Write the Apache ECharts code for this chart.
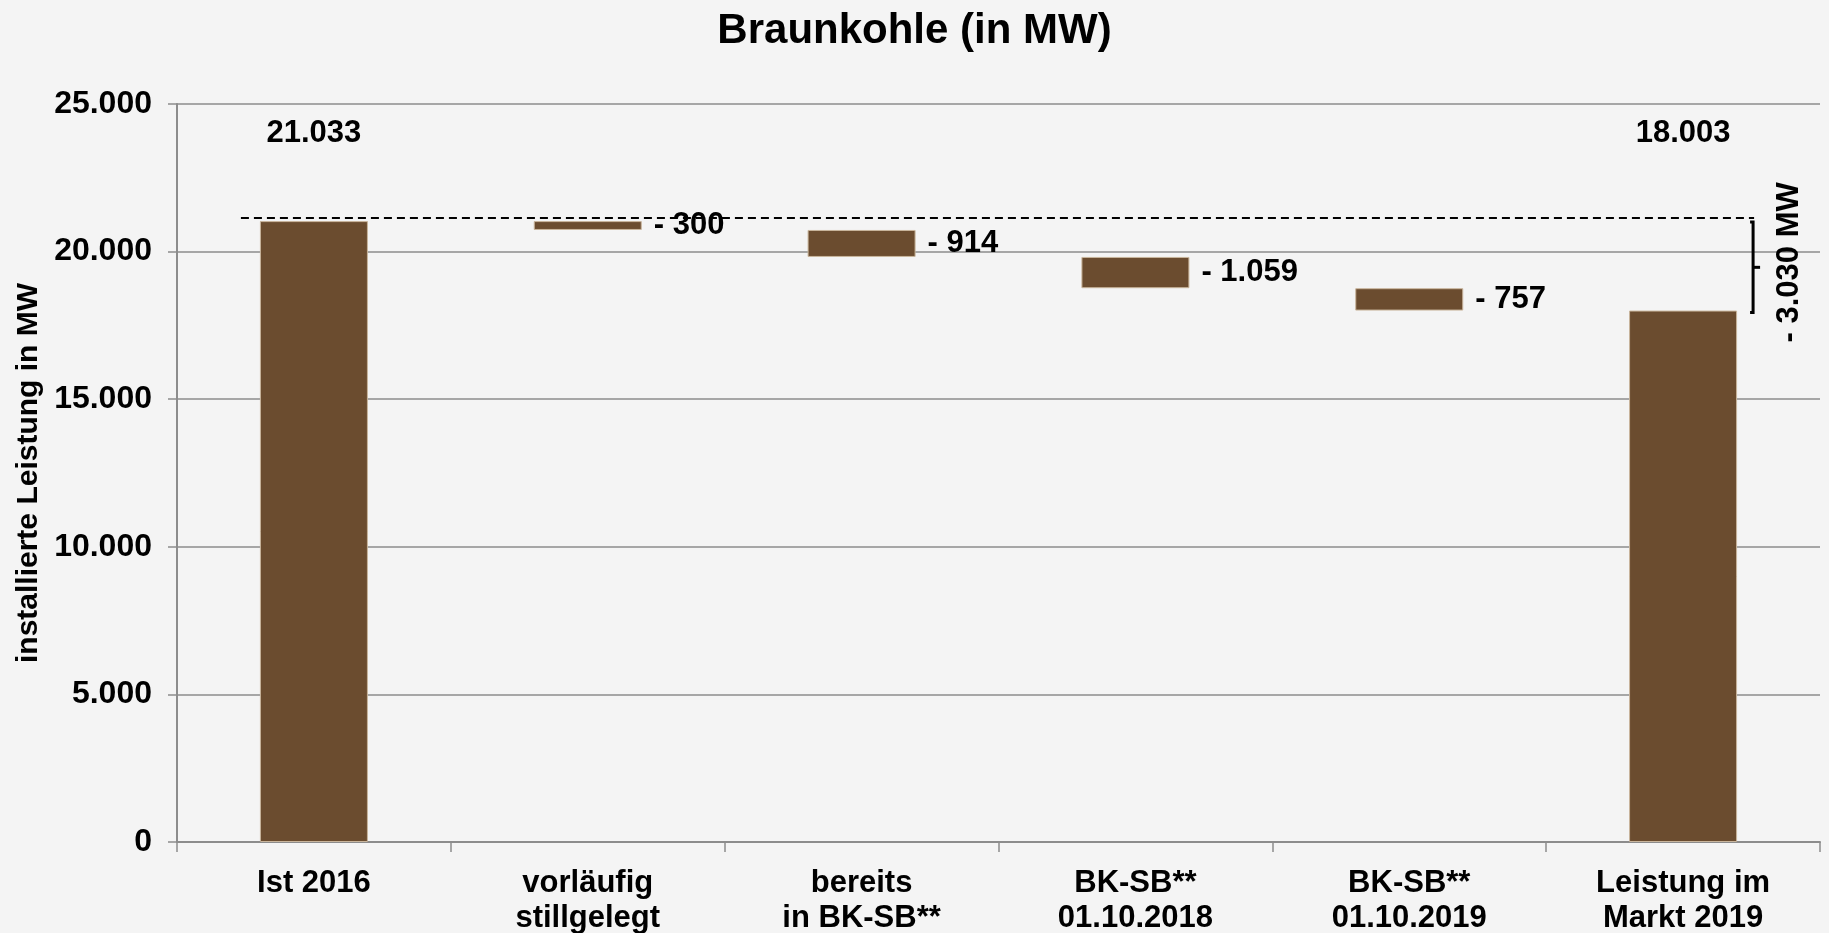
<!DOCTYPE html>
<html>
<head>
<meta charset="utf-8">
<script src="https://cdn.jsdelivr.net/npm/echarts@6/dist/echarts.min.js"></script>
<style>
  html, body { margin: 0; padding: 0; background: #f4f4f4; }
  #chart { width: 1829px; height: 933px; }
</style>
</head>
<body>
<div id="chart"></div>
<script>
// Werte (MW)
var categories = ['Ist 2016', 'vorläufig\nstillgelegt', 'bereits\nin BK-SB**', 'BK-SB**\n01.10.2018', 'BK-SB**\n01.10.2019', 'Leistung im\nMarkt 2019'];
var startValue = 21033;
var changes = [-300, -914, -1059, -757];
var endValue = 18003;
var yTicks = [0, 5000, 10000, 15000, 20000, 25000];

function fmt(v) {
    return String(Math.abs(v)).replace(/\B(?=(\d{3})+(?!\d))/g, '.');
}

// Wasserfall: unsichtbare Basis + sichtbarer Balken
var baseData = ['-'];
var barData = [startValue];
var level = startValue;
changes.forEach(function (c) {
    level += c;
    baseData.push(level);
    barData.push(-c);
});
baseData.push('-');
barData.push(endValue);

var FONT = '"Liberation Sans", Arial, sans-serif';
var BROWN = '#6b4c2f';
var GRAY = '#8c8c8c';
var LABEL_Y = 24000;

var chart = echarts.init(document.getElementById('chart'));
chart.setOption({
    backgroundColor: '#f4f4f4',
    animation: false,
    title: {
        text: 'Braunkohle (in MW)',
        left: 'center',
        top: 5,
        textStyle: { fontFamily: FONT, fontSize: 42, fontWeight: 'bold', color: '#000' }
    },
    grid: { left: 177, right: 9, top: 104, bottom: 91, outerBoundsMode: 'none' },
    xAxis: {
        type: 'category',
        data: categories,
        axisLine: { lineStyle: { color: GRAY, width: 2 } },
        axisTick: { show: true, length: 10, lineStyle: { color: GRAY, width: 1.5 } },
        axisLabel: {
            interval: 0,
            margin: 24,
            fontFamily: FONT, fontSize: 31, fontWeight: 'bold', color: '#000',
            lineHeight: 35
        }
    },
    yAxis: {
        type: 'value',
        min: yTicks[0],
        max: yTicks[yTicks.length - 1],
        interval: 5000,
        name: 'installierte Leistung in MW',
        nameLocation: 'middle',
        nameGap: 133,
        nameMoveOverlap: false,
        nameTextStyle: { fontFamily: FONT, fontSize: 30, fontWeight: 'bold', color: '#000' },
        axisLine: { show: true, lineStyle: { color: GRAY, width: 2 } },
        axisTick: { show: true, length: 9, lineStyle: { color: GRAY, width: 1.5 } },
        splitLine: { lineStyle: { color: GRAY, width: 1.5 } },
        axisLabel: {
            margin: 25,
            fontFamily: FONT, fontSize: 32, fontWeight: 'bold', color: '#000',
            formatter: function (v) { return fmt(v); }
        }
    },
    series: [
        {
            type: 'bar',
            stack: 'wf',
            data: baseData,
            itemStyle: { color: 'transparent' },
            silent: true
        },
        {
            type: 'bar',
            stack: 'wf',
            barWidth: 108,
            data: barData,
            itemStyle: { color: BROWN, borderColor: '#c9b59c', borderWidth: 1 },
            label: {
                show: true,
                position: 'right',
                distance: 12,
                fontFamily: FONT, fontSize: 31, fontWeight: 'bold', color: '#000',
                formatter: function (p) {
                    if (p.dataIndex === 0 || p.dataIndex === categories.length - 1) return '';
                    return '- ' + fmt(p.value);
                }
            },
            markPoint: {
                symbol: 'rect',
                symbolSize: 1,
                itemStyle: { color: 'transparent' },
                label: {
                    show: true,
                    position: 'inside',
                    fontFamily: FONT, fontSize: 31, fontWeight: 'bold', color: '#000',
                    formatter: function (p) { return fmt(p.value); }
                },
                data: [
                    { coord: [0, LABEL_Y], value: startValue },
                    { coord: [categories.length - 1, LABEL_Y], value: endValue }
                ]
            }
        }
    ]
});

// Gestrichelte Linie und Klammer
var pTop = chart.convertToPixel({ gridIndex: 0 }, [0, startValue]);
var pEnd = chart.convertToPixel({ gridIndex: 0 }, [categories.length - 1, endValue]);
var bx = pEnd[0] + 70;
var yTop = pTop[1] + 1;
var yBot = pEnd[1] + 2;
var yMid = (yTop + yBot) / 2;
chart.setOption({
    graphic: [
        {
            type: 'line',
            shape: { x1: pTop[0] - 73, y1: pTop[1] - 3, x2: bx + 1, y2: pTop[1] - 3 },
            style: { stroke: '#000', lineWidth: 2, lineDash: [8, 5] }
        },
        {
            type: 'polyline',
            shape: { points: [[bx - 3, yTop], [bx, yTop], [bx, yBot], [bx - 3, yBot]] },
            style: { stroke: '#000', lineWidth: 3, fill: null }
        },
        {
            type: 'line',
            shape: { x1: bx, y1: yMid, x2: bx + 7, y2: yMid },
            style: { stroke: '#000', lineWidth: 3 }
        },
        {
            type: 'text',
            x: bx + 36,
            y: yMid - 5,
            rotation: Math.PI / 2,
            style: {
                text: '- ' + fmt(startValue - endValue) + ' MW',
                fontFamily: FONT, fontSize: 31, fontWeight: 'bold', fill: '#000',
                textAlign: 'center', textVerticalAlign: 'middle'
            }
        }
    ]
});
</script>
</body>
</html>
